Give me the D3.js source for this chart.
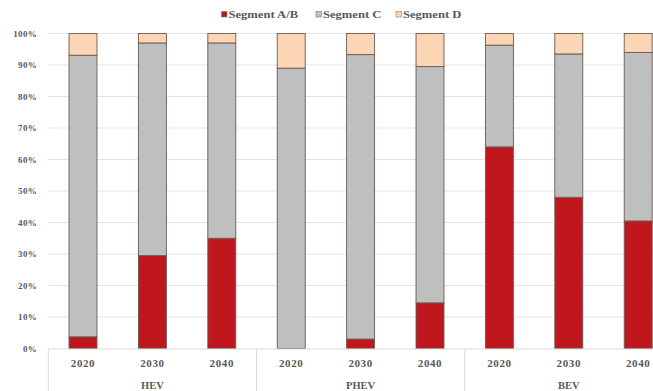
<!DOCTYPE html>
<html><head><meta charset="utf-8">
<script src="https://cdn.jsdelivr.net/npm/d3@7"></script>
<style>
html,body{margin:0;padding:0;background:#fff;}
svg{display:block;}
text{font-family:"Liberation Serif","DejaVu Serif",serif;fill:#595959;font-weight:bold;}
</style></head>
<body>
<svg id="chart" width="653" height="391"></svg>
<script>
const groups = ["HEV", "PHEV", "BEV"];
const years = ["2020", "2030", "2040"];
const seriesNames = ["Segment A/B", "Segment C", "Segment D"];
const segAB = [3.7, 29.5, 35, 0, 3, 14.5, 64, 48, 40.5];
const segC  = [89.4, 67.5, 62, 89, 90.3, 75, 32.3, 45.5, 53.5];
const segD  = [6.9, 3, 3, 11, 6.7, 10.5, 3.7, 6.5, 6];
const yTicks = [0, 10, 20, 30, 40, 50, 60, 70, 80, 90, 100];
const colors = ["#C0171F", "#BFBFBF", "#FCD5B5"];

const rows = [];
groups.forEach((g, gi) => years.forEach((y, yi) => {
  const i = gi * years.length + yi;
  rows.push({key: g + "-" + y, group: g, year: y, "Segment A/B": segAB[i], "Segment C": segC[i], "Segment D": segD[i]});
}));

const svg = d3.select("#chart");
const x0 = 48.3, x1 = 672.9;
const x = d3.scaleBand().domain(rows.map(d => d.key)).range([x0, x1]).paddingInner(0.597).paddingOuter(0.2985);
const xg = d3.scaleBand().domain(groups).range([x0, x1]).padding(0);
const y = d3.scaleLinear().domain([0, 100]).range([348.5, 33.5]);

// gridlines
svg.append("g").selectAll("line").data(yTicks.filter(t => t > 0)).join("line")
  .attr("x1", x0).attr("x2", 653).attr("y1", d => y(d)).attr("y2", d => y(d))
  .attr("stroke", "#E3E3E3").attr("stroke-width", 1);

// y axis labels
const yAxis = d3.axisLeft(y).tickValues(yTicks).tickFormat(d => d + "%").tickSize(0).tickPadding(0);
const yg = svg.append("g").attr("transform", "translate(37,0)").call(yAxis);
yg.select(".domain").remove();
yg.selectAll("text").attr("font-size", 9).style("font-family", '"Liberation Serif",serif')
  .attr("fill", "#595959").attr("font-weight", "bold").attr("letter-spacing", 0.3);

// stacked bars
const stack = d3.stack().keys(seriesNames)(rows);
svg.append("g").selectAll("g").data(stack).join("g")
  .attr("fill", (d, i) => colors[i])
  .selectAll("rect").data(d => d.filter(s => s[1] - s[0] > 0)).join("rect")
  .attr("x", d => x(d.data.key)).attr("width", x.bandwidth())
  .attr("y", d => y(d[1])).attr("height", d => y(d[0]) - y(d[1]))
  .attr("stroke", "#6b5a50").attr("stroke-width", 0.9);

// x axis line
svg.append("line").attr("x1", x0).attr("x2", 653).attr("y1", 349).attr("y2", 349)
  .attr("stroke", "#D9D9D9").attr("stroke-width", 1);

// group separators
const seps = groups.map(g => xg(g));
svg.append("g").selectAll("line").data(seps).join("line")
  .attr("x1", d => d).attr("x2", d => d).attr("y1", 349).attr("y2", 391)
  .attr("stroke", "#D9D9D9").attr("stroke-width", 1);

// year labels
svg.append("g").selectAll("text").data(rows).join("text")
  .attr("x", d => x(d.key) + x.bandwidth() / 2).attr("y", 367)
  .attr("text-anchor", "middle").attr("font-size", 11).attr("letter-spacing", 0.6).text(d => d.year);

// group labels
svg.append("g").selectAll("text").data(groups).join("text")
  .attr("x", d => xg(d) + xg.bandwidth() / 2).attr("y", 389)
  .attr("text-anchor", "middle").attr("font-size", 10.5).text(d => d);

// legend
const legendX = [221.5, 316, 396];
const lg = svg.append("g").selectAll("g").data(seriesNames).join("g")
  .attr("transform", (d, i) => `translate(${legendX[i]},11.5)`);
lg.append("rect").attr("width", 5.5).attr("height", 5.5)
  .attr("fill", (d, i) => colors[i]).attr("stroke", "#7f7f7f").attr("stroke-width", 0.6);
lg.append("text").attr("transform", "translate(7,6.5) scale(1.2,1)")
  .attr("font-size", 10.5).text(d => d);
</script>
</body></html>
